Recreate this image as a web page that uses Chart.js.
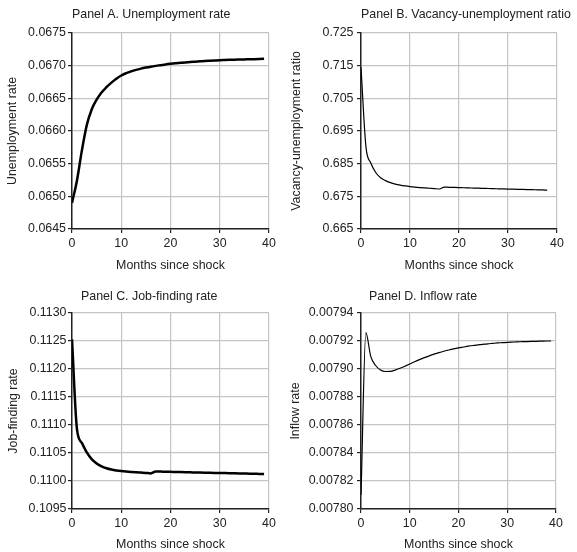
<!DOCTYPE html>
<html>
<head>
<meta charset="utf-8">
<script src="https://cdn.jsdelivr.net/npm/chart.js@4.4.1/dist/chart.umd.min.js"></script>
<style>
  body { margin: 0; background: #fff; }
  #wrap { position: relative; width: 577px; height: 552px; }
  #wrap canvas { position: absolute; }
</style>
</head>
<body>
<div id="wrap">
  <canvas id="panelA" width="287" height="276" style="left:0;top:0"></canvas>
  <canvas id="panelB" width="290" height="276" style="left:287px;top:0"></canvas>
  <canvas id="panelC" width="287" height="276" style="left:0;top:276px"></canvas>
  <canvas id="panelD" width="290" height="276" style="left:287px;top:276px"></canvas>
</div>
<script>
// months since shock
var months = [0, 1, 2, 3, 4, 5, 6, 7, 8, 9, 10, 11, 12, 13, 14, 15, 16, 17, 18, 19,
              20, 21, 22, 23, 24, 25, 26, 27, 28, 29, 30, 31, 32, 33, 34, 35, 36, 37, 38, 39];
var xTicks = [0, 10, 20, 30, 40];

// Panel A. Unemployment rate
var unempRate = [0.06490, 0.06524, 0.06570, 0.06609, 0.06633, 0.06648, 0.06659, 0.06667, 0.06674, 0.06680,
                 0.066850, 0.066885, 0.066913, 0.066936, 0.066955, 0.066971, 0.066985, 0.066997, 0.067008, 0.067019,
                 0.067028, 0.067036, 0.067043, 0.067050, 0.067056, 0.067061, 0.067066, 0.067071, 0.067075, 0.067079,
                 0.067083, 0.067086, 0.067089, 0.067092, 0.067094, 0.067096, 0.067098, 0.067100, 0.067102, 0.067104];
var unempTicks = [0.0645, 0.0650, 0.0655, 0.0660, 0.0665, 0.0670, 0.0675];

// Panel B. Vacancy-unemployment ratio (ends at month 38)
var vuRatio = [0.7145, 0.6903, 0.6852, 0.6823, 0.6807, 0.6798, 0.67920, 0.67876, 0.67843, 0.67818,
               0.67798, 0.67782, 0.67769, 0.67758, 0.67748, 0.67738, 0.67725, 0.67782, 0.67777, 0.67772,
               0.67767, 0.67762, 0.67758, 0.67753, 0.67749, 0.67744, 0.67740, 0.67735, 0.67731, 0.67727,
               0.67723, 0.67719, 0.67715, 0.67711, 0.67707, 0.67703, 0.67699, 0.67695, 0.67691];
var vuTicks = [0.665, 0.675, 0.685, 0.695, 0.705, 0.715, 0.725];

// Panel C. Job-finding rate
var jobFinding = [0.11253, 0.11093, 0.11068, 0.11051, 0.11039, 0.110312, 0.110262, 0.110228, 0.110205, 0.110189,
                  0.110177, 0.110168, 0.110161, 0.110155, 0.110150, 0.110145, 0.110136, 0.110170, 0.110168, 0.110165,
                  0.110163, 0.110161, 0.110159, 0.110157, 0.110155, 0.110153, 0.110151, 0.110149, 0.110147, 0.110145,
                  0.110143, 0.110141, 0.110139, 0.110137, 0.110135, 0.110133, 0.110131, 0.110129, 0.110127, 0.110125];
var jobTicks = [0.1095, 0.1100, 0.1105, 0.1110, 0.1115, 0.1120, 0.1125, 0.1130];

// Panel D. Inflow rate
var inflowRate = [0.007810, 0.007926, 0.007909, 0.0079025, 0.0078993, 0.0078982, 0.0078983, 0.0078992, 0.0079005, 0.0079020,
                  0.0079036, 0.0079052, 0.0079067, 0.0079081, 0.0079094, 0.0079106, 0.0079117, 0.0079127, 0.0079136, 0.0079144,
                  0.0079151, 0.0079157, 0.0079163, 0.0079168, 0.0079172, 0.0079176, 0.0079180, 0.0079183, 0.0079186, 0.0079188,
                  0.0079190, 0.0079192, 0.0079194, 0.0079195, 0.0079196, 0.0079197, 0.0079198, 0.0079199, 0.0079200, 0.0079200];
var inflowTicks = [0.00780, 0.00782, 0.00784, 0.00786, 0.00788, 0.00790, 0.00792, 0.00794];

var FONT = '"Liberation Sans", Arial, Helvetica, sans-serif';

// draws the panel heading left of the plot area
var panelTitle = {
    id: 'panelTitle',
    afterDraw: function (chart, args, opts) {
        var ctx = chart.ctx;
        ctx.save();
        ctx.font = '12.4px ' + FONT;
        ctx.fillStyle = '#222';
        ctx.textBaseline = 'middle';
        ctx.textAlign = 'left';
        ctx.fillText(opts.text, chart.chartArea.left + opts.dx, opts.y);
        ctx.restore();
    }
};

function makePanel(id, cfg) {
    var points = cfg.values.map(function (v, i) { return {x: months[i], y: v}; });
    var yMin = cfg.yTicks[0], yMax = cfg.yTicks[cfg.yTicks.length - 1];
    new Chart(document.getElementById(id).getContext('2d'), {
        type: 'line',
        data: {
            datasets: [{
                data: points,
                borderColor: '#000',
                borderWidth: cfg.lineWidth,
                pointRadius: 0,
                fill: false,
                cubicInterpolationMode: 'monotone'
            }]
        },
        options: {
            responsive: false,
            animation: false,
            devicePixelRatio: 1,
            layout: {padding: {top: cfg.top, right: cfg.right, left: 0, bottom: 0}},
            plugins: {
                legend: {display: false},
                tooltip: {enabled: false},
                panelTitle: {text: cfg.title, dx: cfg.titleDx, y: cfg.titleY}
            },
            scales: {
                x: {
                    type: 'linear',
                    min: 0, max: 40,
                    afterBuildTicks: function (s) { s.ticks = xTicks.map(function (v) { return {value: v}; }); },
                    afterFit: function (s) { s.height = cfg.xHeight; },
                    grid: {color: '#c4c4c4', lineWidth: 1.2, tickColor: '#222', tickLength: 4},
                    border: {color: '#222', width: 1.5},
                    ticks: {color: '#222', font: {family: FONT, size: 12.4}, padding: 3, maxRotation: 0},
                    title: {display: true, text: 'Months since shock', color: '#222',
                            font: {family: FONT, size: 12.4}, padding: {top: 0, bottom: cfg.xTitlePad}}
                },
                y: {
                    type: 'linear',
                    min: yMin, max: yMax,
                    afterBuildTicks: function (s) { s.ticks = cfg.yTicks.map(function (v) { return {value: v}; }); },
                    afterFit: function (s) { s.width = cfg.yWidth; },
                    grid: {color: '#c4c4c4', lineWidth: 1.2, tickColor: '#222', tickLength: 4},
                    border: {color: '#222', width: 1.5},
                    ticks: {color: '#222', font: {family: FONT, size: 12.4}, padding: cfg.yTickPad,
                            callback: function (v) { return v.toFixed(cfg.decimals); }},
                    title: {display: true, text: cfg.yTitle, color: '#222',
                            font: {family: FONT, size: 12.4}, padding: {top: cfg.yTitlePad, bottom: 0}}
                }
            }
        },
        plugins: [panelTitle]
    });
}

makePanel('panelA', {
    values: unempRate, yTicks: unempTicks, decimals: 4, lineWidth: 2.5,
    title: 'Panel A. Unemployment rate', titleDx: 0, titleY: 15,
    yTitle: 'Unemployment rate', yTitlePad: 5.5, yWidth: 72, yTickPad: 2,
    top: 33, right: 18, xHeight: 47, xTitlePad: 2.5
});
makePanel('panelB', {
    values: vuRatio, yTicks: vuTicks, decimals: 3, lineWidth: 1.2,
    title: 'Panel B. Vacancy-unemployment ratio', titleDx: 0, titleY: 15,
    yTitle: 'Vacancy-unemployment ratio', yTitlePad: 2.5, yWidth: 74, yTickPad: 3.5,
    top: 33, right: 20, xHeight: 47, xTitlePad: 2.5
});
makePanel('panelC', {
    values: jobFinding, yTicks: jobTicks, decimals: 4, lineWidth: 2.5,
    title: 'Panel C. Job-finding rate', titleDx: 9, titleY: 21,
    yTitle: 'Job-finding rate', yTitlePad: 6, yWidth: 72, yTickPad: 1.5,
    top: 37, right: 18, xHeight: 43, xTitlePad: 0
});
makePanel('panelD', {
    values: inflowRate, yTicks: inflowTicks, decimals: 5, lineWidth: 1.2,
    title: 'Panel D. Inflow rate', titleDx: 8, titleY: 21,
    yTitle: 'Inflow rate', yTitlePad: 1, yWidth: 74, yTickPad: 3.5,
    top: 37, right: 21, xHeight: 43, xTitlePad: 0
});
</script>
</body>
</html>
